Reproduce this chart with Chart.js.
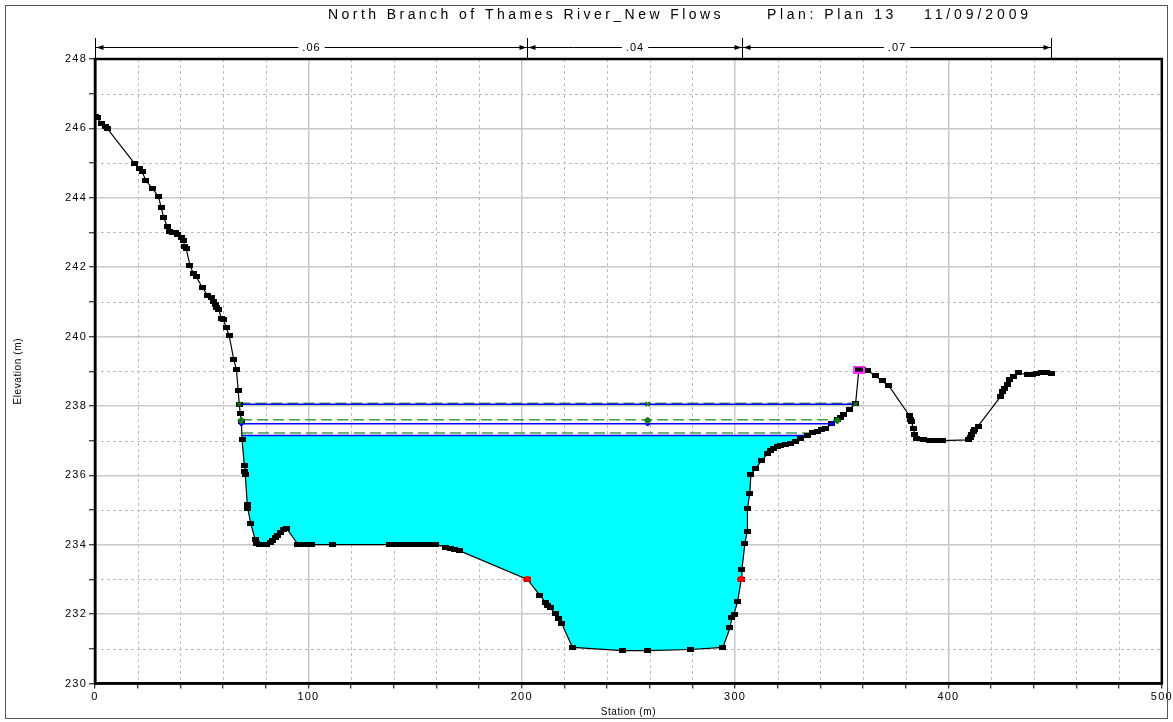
<!DOCTYPE html>
<html>
<head>
<meta charset="utf-8">
<script src="https://cdn.jsdelivr.net/npm/chart.js@4.4.1/dist/chart.umd.min.js"></script>
<style>
  html, body { margin: 0; padding: 0; background: #fff; }
  canvas { display: block; }
</style>
</head>
<body>
<canvas id="xs" width="1173" height="722"></canvas>
<script>
// Cross-section ground points: station (m) and elevation (m)
const stations = [
  0, 1, 3.2, 4.7, 5.7, 18.4, 20.7, 22.1, 23.9, 26.8, 29.8, 31.0, 32.2, 33.8, 35.0, 36.5, 37.6,
  38.7, 40.6, 41.6, 41.9, 42.7, 44.5, 46.0, 47.5, 50.2, 52.9, 54.5, 55.7, 56.5, 57.1, 58.0,
  59.2, 60.2, 61.5, 62.9, 65.0, 66.3, 67.1, 67.6, 68.1, 68.6, 68.9, 70.0, 70.3, 70.4, 71.4,
  71.6, 73.0, 75.1, 75.6, 77.3, 80.2, 82.1, 83.2, 84.4, 85.7, 87.0, 88.5, 89.7, 95.0, 96.6,
  99.1, 101.3, 111.4, 137.9, 140.4, 143.4, 146.3, 149.3, 152.3, 155.3, 157.8, 159.8, 164.5,
  166.7, 168.7, 170.7, 202.7, 208.5, 211.3, 212.3, 213.3, 215.6, 217.4, 218.8, 223.8, 247.4,
  259.0, 279.1, 294.3, 297.6, 298.5, 299.5, 301.2, 302.9, 303.2, 304.6, 305.6, 305.8, 306.9,
  307.4, 309.7, 312.4, 315.1, 316.7, 318.2, 319.7, 321.3, 323.7, 326.0, 328.3, 330.7, 333.8,
  336.2, 338.4, 340.5, 342.3, 345.4, 347.9, 349.5, 351.0, 353.4, 356.5, 358.0, 359.5, 361.9,
  365.8, 368.9, 372.1, 381.7, 382.2, 382.7, 383.5, 384.3, 385.1, 388.1, 391.1, 394.0, 397.0,
  409.2, 410.1, 410.9, 411.7, 412.4, 413.9, 424.4, 425.5, 426.4, 427.5, 428.8, 430.3, 432.6,
  437.2, 439.3, 441.2, 443.7, 445.8, 448.2
];
const elevations = [
  246.35, 246.3, 246.13, 246.05, 246.0, 245.0, 244.84, 244.75, 244.49, 244.28, 244.03, 243.72,
  243.43, 243.18, 243.02, 243.0, 243.0, 242.93, 242.85, 242.78, 242.6, 242.55, 242.05, 241.83,
  241.72, 241.42, 241.18, 241.12, 241.02, 240.92, 240.85, 240.78, 240.53, 240.48, 240.27,
  240.02, 239.35, 239.05, 238.45, 238.05, 237.78, 237.55, 237.03, 236.28, 236.12, 236.03,
  235.15, 235.05, 234.6, 234.15, 234.03, 234.0, 234.0, 234.05, 234.12, 234.2, 234.28, 234.36,
  234.45, 234.48, 234.02, 234.0, 234.0, 234.0, 234.0, 234.0, 234.0, 234.0, 234.0, 234.0,
  234.0, 234.0, 234.0, 234.0, 233.93, 233.9, 233.86, 233.83, 233.0, 232.54, 232.33, 232.25,
  232.18, 232.02, 231.88, 231.72, 231.04, 230.95, 230.95, 230.98, 231.04, 231.6, 231.9, 232.0,
  232.37, 233.0, 233.28, 234.03, 234.37, 235.04, 235.49, 236.02, 236.21, 236.42, 236.62,
  236.72, 236.78, 236.82, 236.85, 236.88, 236.92, 236.97, 237.05, 237.15, 237.23, 237.27,
  237.32, 237.36, 237.48, 237.6, 237.68, 237.75, 237.9, 238.08, 239.05, 239.05, 239.02,
  238.87, 238.72, 238.58, 237.72, 237.62, 237.55, 237.35, 237.18, 237.05, 237.02, 237.0,
  237.0, 237.0, 237.02, 237.1, 237.17, 237.25, 237.33, 237.42, 238.27, 238.42, 238.5, 238.62,
  238.75, 238.85, 238.95, 238.9, 238.92, 238.93, 238.95, 238.96, 238.94
];

// Bank stations (red markers)
const bankStations = [202.7, 302.9];
const bankElevations = [233.0, 233.0];

// Levee point (magenta box)
const leveeStations = [358.0];
const leveeElevations = [239.05];

// Manning's n regions shown above the plot
const nBreaks = [0, 202.7, 303.2, 448.2];
const nLabels = ['.06', '.04', '.07'];

// Water surfaces (WS) and energy grade lines (EG) for the three profiles
const wsElev = [238.05, 237.49, 237.15];
const wsLeft = [67.6, 68.6, 68.9];
const wsRight = [356.5, 345.4, 334.2];
const egElev = [238.08, 237.6, 237.22];
const egLeft = [67.6, 68.5, 68.9];
const egRight = [356.7, 347.0, 334.9];

// Profile markers at left edge, channel centre and right edge
const wsMarkStations = [[67.6, 259.0, 356.5], [68.6, 259.0, 345.4]];
const egMarkStations = [68.6, 259.0, 347.9];
const egMarkElev = 237.58;

// Axis ticks
const xTickLabels = [0, 100, 200, 300, 400, 500];
const yTickLabels = [230, 232, 234, 236, 238, 240, 242, 244, 246, 248];

const titleParts = [
  { text: 'North Branch of Thames River_New Flows', x0: 328, x1: 724 },
  { text: 'Plan: Plan 13', x0: 767, x1: 897 },
  { text: '11/09/2009', x0: 924, x1: 1032 }
];

const FONT = '"Liberation Sans", Arial, sans-serif';

function boxMarker(w, h, fill, stroke) {
  const c = document.createElement('canvas');
  c.width = w; c.height = h;
  const g = c.getContext('2d');
  if (stroke) {
    g.strokeStyle = stroke; g.lineWidth = 2;
    g.strokeRect(1, 1, w - 2, h - 2);
    g.fillStyle = fill;
    g.fillRect(3, 2, w - 6, h - 4);
  } else {
    g.fillStyle = fill;
    g.fillRect(0, 0, w, h);
  }
  return c;
}
function ovalMarker(w, h, fill) {
  const c = document.createElement('canvas');
  c.width = w; c.height = h;
  const g = c.getContext('2d');
  g.fillStyle = fill;
  g.beginPath();
  g.ellipse(w / 2, h / 2, w / 2, h / 2, 0, 0, Math.PI * 2);
  g.fill();
  return c;
}

const groundPts = stations.map((s, i) => ({ x: s, y: elevations[i] }));

// Wetted part of the section for the lowest profile, filled up to its water surface
const waterPts = [{ x: wsLeft[2], y: wsElev[2] }]
  .concat(groundPts.filter(p => p.x > wsLeft[2] && p.x < wsRight[2]))
  .concat([{ x: wsRight[2], y: wsElev[2] }]);

const datasets = [
  {
    label: 'Bank Sta',
    data: bankStations.map((s, i) => ({ x: s, y: bankElevations[i] })),
    showLine: false,
    pointStyle: ovalMarker(8, 6, '#ff0000'),
    pointRadius: 4
  },
  {
    label: 'Levee',
    data: leveeStations.map((s, i) => ({ x: s, y: leveeElevations[i] })),
    showLine: false,
    pointStyle: boxMarker(12, 8, '#000', '#ff33ff'),
    pointRadius: 5
  },
  {
    label: 'WS marks 1',
    data: wsMarkStations[0].map(s => ({ x: s, y: wsElev[0] })),
    showLine: false,
    pointStyle: 'crossRot',
    pointRadius: 3,
    pointBorderColor: '#1a7a1a',
    pointBorderWidth: 1.5
  },
  {
    label: 'EG marks 2',
    data: egMarkStations.map(s => ({ x: s, y: egMarkElev })),
    showLine: false,
    pointStyle: 'rectRot',
    pointRadius: 3.5,
    pointBackgroundColor: '#1a7a1a',
    pointBorderColor: '#1a7a1a',
    pointBorderWidth: 1
  },
  {
    label: 'WS marks 2',
    data: wsMarkStations[1].map(s => ({ x: s, y: wsElev[1] })),
    showLine: false,
    pointStyle: 'rectRot',
    pointRadius: 2.5,
    pointBackgroundColor: '#0000ff',
    pointBorderColor: '#0000ff',
    pointBorderWidth: 1
  },
  {
    label: 'Ground',
    data: groundPts,
    showLine: true,
    borderColor: '#000',
    borderWidth: 1.2,
    pointStyle: boxMarker(7, 5, '#000'),
    pointRadius: 3
  }
];

wsElev.forEach((z, i) => {
  datasets.push({
    label: 'WS ' + (i + 1),
    data: [{ x: wsLeft[i], y: z }, { x: wsRight[i], y: z }],
    showLine: true,
    borderColor: '#0000ff',
    borderWidth: 1.5,
    pointRadius: 0
  });
});
egElev.forEach((z, i) => {
  datasets.push({
    label: 'EG ' + (i + 1),
    data: [{ x: egLeft[i], y: z }, { x: egRight[i], y: z }],
    showLine: true,
    borderColor: '#4a9a4a',
    borderWidth: 1.5,
    borderDash: [11, 5],
    pointRadius: 0
  });
});
datasets.push({
  label: 'Water',
  data: waterPts,
  showLine: true,
  borderWidth: 0,
  borderColor: 'rgba(0,0,0,0)',
  backgroundColor: '#00ffff',
  fill: { value: wsElev[2] },
  pointRadius: 0
});

// Minor dashed grid, plot frame, title, n-value brackets and axis titles
const decor = {
  id: 'decor',
  beforeDraw(chart) {
    chart.ctx.letterSpacing = '1.2px';
  },
  beforeDatasetsDraw(chart) {
    const { ctx, chartArea: a, scales: { x, y } } = chart;
    ctx.save();
    ctx.letterSpacing = '0px';
    ctx.strokeStyle = '#bdbdbd';
    ctx.lineWidth = 1;
    ctx.setLineDash([3, 3]);
    for (let v = 20; v < 500; v += 20) {
      if (v % 100 === 0) continue;
      const px = Math.round(x.getPixelForValue(v)) + 0.5;
      ctx.beginPath(); ctx.moveTo(px, a.top); ctx.lineTo(px, a.bottom); ctx.stroke();
    }
    for (let v = 231; v < 248; v += 2) {
      const py = Math.round(y.getPixelForValue(v)) + 0.5;
      ctx.beginPath(); ctx.moveTo(a.left, py); ctx.lineTo(a.right, py); ctx.stroke();
    }
    ctx.restore();
  },
  afterDraw(chart) {
    const { ctx, chartArea: a, scales: { x } } = chart;
    ctx.save();
    ctx.letterSpacing = '0px';

    // outer frame
    ctx.strokeStyle = '#555';
    ctx.lineWidth = 1;
    ctx.strokeRect(5.5, 5.5, 1162, 713);

    // plot frame
    ctx.strokeStyle = '#000';
    ctx.lineWidth = 2.5;
    ctx.strokeRect(a.left, a.top, a.right - a.left, a.bottom - a.top);

    // title
    ctx.fillStyle = '#000';
    ctx.font = '14px ' + FONT;
    ctx.textBaseline = 'middle';
    ctx.textAlign = 'left';
    titleParts.forEach(p => {
      ctx.letterSpacing = '0px';
      const w = ctx.measureText(p.text).width;
      const sp = (p.x1 - p.x0 - w) / p.text.length;
      ctx.letterSpacing = sp.toFixed(2) + 'px';
      ctx.fillText(p.text, p.x0, 15);
    });

    // Manning's n brackets
    const by = 47.5;
    const bx = nBreaks.map(v => Math.round(x.getPixelForValue(v)) + 0.5);
    ctx.strokeStyle = '#000';
    ctx.lineWidth = 1;
    ctx.beginPath();
    ctx.moveTo(bx[0], by); ctx.lineTo(bx[bx.length - 1], by);
    bx.forEach(px => { ctx.moveTo(px, 38); ctx.lineTo(px, a.top); });
    ctx.stroke();
    ctx.fillStyle = '#000';
    for (let i = 0; i < nLabels.length; i++) {
      const l = bx[i], r = bx[i + 1];
      ctx.beginPath();
      ctx.moveTo(l + 1, by); ctx.lineTo(l + 8, by - 2.5); ctx.lineTo(l + 8, by + 2.5); ctx.closePath();
      ctx.moveTo(r - 1, by); ctx.lineTo(r - 8, by - 2.5); ctx.lineTo(r - 8, by + 2.5); ctx.closePath();
      ctx.fill();
      ctx.font = '11px ' + FONT;
      ctx.letterSpacing = '1px';
      const t = nLabels[i];
      const w = ctx.measureText(t).width;
      const cx = (l + r) / 2;
      ctx.fillStyle = '#fff';
      ctx.fillRect(cx - w / 2 - 4, by - 4, w + 8, 8);
      ctx.fillStyle = '#000';
      ctx.textAlign = 'center';
      ctx.fillText(t, cx, by);
    }

    // axis titles
    ctx.font = '10px ' + FONT;
    ctx.letterSpacing = '0.6px';
    ctx.textAlign = 'center';
    ctx.fillText('Station (m)', (a.left + a.right) / 2, 712);
    ctx.save();
    ctx.translate(18, (a.top + a.bottom) / 2);
    ctx.rotate(-Math.PI / 2);
    ctx.fillText('Elevation (m)', 0, 0);
    ctx.restore();

    ctx.restore();
  }
};

const chart = new Chart(document.getElementById('xs'), {
  type: 'scatter',
  data: { datasets },
  options: {
    responsive: false,
    animation: false,
    devicePixelRatio: 1,
    layout: { padding: { top: 59, right: 7, left: 0, bottom: 0 } },
    plugins: { legend: { display: false }, tooltip: { enabled: false } },
    scales: {
      x: {
        type: 'linear',
        min: 0, max: 500,
        afterFit(s) { s.height = 38.5; },
        ticks: {
          stepSize: 20,
          autoSkip: false,
          maxRotation: 0,
          padding: 2,
          color: '#000',
          font: { family: FONT, size: 11 },
          callback: v => (xTickLabels.includes(v) ? String(v) : '')
        },
        grid: {
          color: c => (c.tick && c.tick.value % 100 === 0 ? '#c8c8c8' : 'rgba(0,0,0,0)'),
          lineWidth: 1.5,
          tickColor: '#000',
          tickLength: 5,
          tickWidth: 1
        },
        border: { color: '#000', width: 2.5 }
      },
      y: {
        type: 'linear',
        min: 230, max: 248,
        afterFit(s) { s.width = 95; },
        ticks: {
          stepSize: 1,
          autoSkip: false,
          padding: 2,
          color: '#000',
          font: { family: FONT, size: 11 },
          callback: v => (yTickLabels.includes(v) ? String(v) : '')
        },
        grid: {
          color: c => (c.tick && c.tick.value % 2 === 0 ? '#c8c8c8' : 'rgba(0,0,0,0)'),
          lineWidth: 1.5,
          tickColor: '#000',
          tickLength: 6,
          tickWidth: 1
        },
        border: { color: '#000', width: 2.5 }
      }
    }
  },
  plugins: [decor]
});
</script>
</body>
</html>
